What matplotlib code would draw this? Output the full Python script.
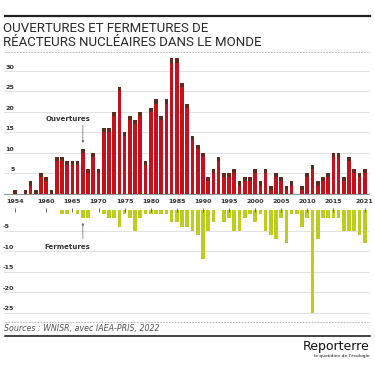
import numpy as np
import matplotlib
matplotlib.use("Agg")
import matplotlib.pyplot as plt
from matplotlib.lines import Line2D

# --- data ---
years = list(range(1954, 2022))
openings = [1, 0, 1, 3, 1, 5, 4, 1, 9, 9, 8, 8, 8, 11, 6, 10, 6, 16, 16, 20,
            26, 15, 19, 18, 20, 8, 21, 23, 19, 23, 33, 33, 27, 22, 14, 12, 10, 4,
            6, 9, 5, 5, 6, 3, 4, 4, 6, 3, 6, 2, 5, 4, 2, 3, 0, 2, 5, 7,
            3, 4, 5, 10, 10, 4, 9, 6, 5, 6]
closures = [0, 0, 0, 0, 0, 0, 0, 0, 0, 1, 1, 0, 1, 2, 2, 0, 0, 1, 2, 2,
            4, 1, 2, 5, 2, 1, 1, 1, 1, 1, 3, 3, 4, 4, 5, 6, 12, 5,
            3, 0, 3, 2, 5, 5, 2, 1, 3, 1, 5, 6, 7, 2, 8, 1, 1, 4, 2, 25,
            7, 2, 2, 2, 2, 5, 5, 5, 6, 8]
tick_years = [1954, 1960, 1965, 1970, 1975, 1980, 1985, 1990, 1995,
              2000, 2005, 2010, 2015, 2021]
pos_ticks = [5, 10, 15, 20, 25, 30]
neg_ticks = [-5, -10, -15, -20, -25]

RED = "#c2121d"
CAP = "#5e2a1b"
GREEN = "#bccd1e"
GRID = "#e2e2e2"
TXT = "#333333"
GAP = 4  # empty band for the year labels between the two halves

W, H = 375, 366
fig = plt.figure(figsize=(W / 100, H / 100), dpi=100)
fig.patch.set_facecolor("white")


def fx(px):
    return px / W


def fy(py):
    return 1 - py / H


ax = fig.add_axes([fx(4), fy(320), fx(370) - fx(4), fy(55) - fy(320)])
ax.set_xlim(1954 - 11 / 5.224, 2021 + 5 / 5.224 + 0.05)
ax.set_ylim(-30.8, 33.85)
ax.axis("off")

x = np.array(years)
op = np.array(openings)
cl = np.array(closures)

# gridlines + y labels
for v in pos_ticks:
    ax.axhline(v, color=GRID, lw=0.8, zorder=0)
    ax.text(1953.9, v + 0.3, str(v), ha="right", va="bottom",
            fontsize=4.6, fontweight="bold", color=TXT)
for v in neg_ticks:
    yv = v - GAP
    ax.axhline(yv, color=GRID, lw=0.8, zorder=0)
    ax.text(1951.7, yv + 0.3, str(v), ha="left", va="bottom",
            fontsize=4.6, fontweight="bold", color=TXT)
ax.axhline(0, color="#9a9a9a", lw=0.8, zorder=1)

# openings: red body with a dark cap of one unit
body = np.clip(op - 1, 0, None)
cap = np.minimum(op, 1)
ax.bar(x, body, width=0.7, color=RED, zorder=2)
ax.bar(x, cap, width=0.7, bottom=body, color=CAP, zorder=2)

# closures below the label band
ax.bar(x, -cl, width=0.7, bottom=-GAP, color=GREEN, zorder=2)

# year labels and small tick marks
for yr in tick_years:
    ax.text(yr, -1.9, str(yr), ha="center", va="center",
            fontsize=4.6, fontweight="bold", color=TXT)
ax.vlines(tick_years, -GAP + 0.5, -GAP - 0.4, color="#555555", lw=0.6, zorder=3)

# annotations
ax.text(1964.2, 18.2, "Ouvertures", ha="center", va="center",
        fontsize=5, fontweight="bold", color=TXT)
ax.annotate("", xy=(1967, 11.7), xytext=(1967, 17.4),
            arrowprops=dict(arrowstyle="-|>", color="#666666", lw=0.5,
                            mutation_scale=3))
ax.text(1964.05, -12.9, "Fermetures", ha="center", va="center",
        fontsize=5, fontweight="bold", color=TXT)
ax.annotate("", xy=(1967, -6.4), xytext=(1967, -11.6),
            arrowprops=dict(arrowstyle="-|>", color="#666666", lw=0.5,
                            mutation_scale=3))

# header
fig.add_artist(Line2D([fx(5), fx(370)], [fy(16), fy(16)], color="#222222", lw=1.6))
fig.text(fx(3), fy(32), "OUVERTURES ET FERMETURES DE", fontsize=9.5,
         family="Roboto", color="#2a2a2a", va="baseline")
fig.text(fx(3), fy(46), "RÉACTEURS NUCLÉAIRES DANS LE MONDE", fontsize=9.5,
         family="Roboto", color="#2a2a2a", va="baseline")
fig.add_artist(Line2D([fx(5), fx(370)], [fy(52), fy(52)], color="#aaaaaa",
                      lw=0.6, ls=(0, (2, 1.5))))

# footer
fig.add_artist(Line2D([fx(5), fx(370)], [fy(322), fy(322)], color="#aaaaaa",
                      lw=0.6, ls=(0, (2, 1.5))))
fig.text(fx(4), fy(331), "Sources : WNISR, avec IAEA-PRIS, 2022", fontsize=5.7,
         style="italic", color="#555555", va="baseline")
fig.add_artist(Line2D([fx(5), fx(370)], [fy(335.5), fy(335.5)], color="#111111", lw=1.1))
fig.text(fx(370), fy(350), "Reporterre", fontsize=9, color="#111111",
         ha="right", va="baseline")
fig.text(fx(370), fy(357), "le quotidien de l'écologie", fontsize=3.2,
         color="#111111", ha="right", va="baseline")

fig.savefig("out.png", dpi=100, facecolor="white")
